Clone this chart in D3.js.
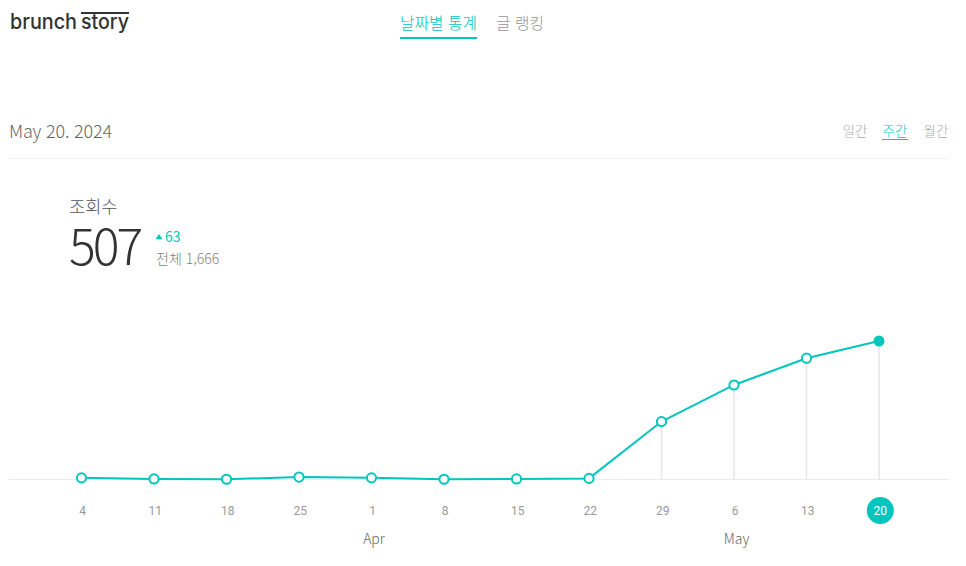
<!DOCTYPE html>
<html lang="ko">
<head>
  <meta charset="UTF-8">
  <title>brunch story</title>
  <style>
    html, body { margin: 0; padding: 0; background: #fff; overflow: hidden; }
    #svg { display: block; opacity: 0.999; }
    text { font-family: "Noto Sans CJK KR", "Noto Sans", sans-serif; font-weight: 300; }
    .roboto { font-family: Roboto, sans-serif; font-weight: 400; }
    .logo { font-family: Inter, Roboto, sans-serif; font-weight: 500; }
  </style>
</head>
<body>
  <svg id="svg" width="966" height="566"></svg>
  <script src="https://d3js.org/d3.v7.min.js"></script>
  <script>
    // data
    const weeks = ['4', '11', '18', '25', '1', '8', '15', '22', '29', '6', '13', '20']
    const views = [6, 2, 1, 9, 6, 1, 2, 4, 212, 346, 444, 507]
    const months = [['Apr', '1'], ['May', '6']]
    const tabs = ['일간', '주간', '월간']

    const teal = '#00c6be'
    const svg = d3.select('#svg')

    // ----- SCALES -----
    const xScale = d3.scalePoint().domain(weeks).range([81.5, 879])
    const yScale = d3.scaleLinear().domain([0, 507]).range([479.5, 341])

    function label(x, y, str, size, color, anchor, cls) {
      return svg.append('text')
        .attr('x', x).attr('y', y)
        .attr('text-anchor', anchor || 'start')
        .attr('class', cls || null)
        .style('font-size', size + 'px')
        .style('fill', color)
        .text(str)
    }

    // ----- HEADER -----
    label(10, 29, 'brunch', 21, '#333', 'start', 'logo')
      .attr('textLength', 67).attr('lengthAdjust', 'spacingAndGlyphs')
    label(81, 29, 'story', 21, '#333', 'start', 'logo')
      .attr('textLength', 48).attr('lengthAdjust', 'spacingAndGlyphs')
    svg.append('rect').attr('x', 81).attr('y', 12).attr('width', 48).attr('height', 2).attr('fill', '#333')

    label(400, 29, '날짜별 통계', 15.8, teal)
    svg.append('rect').attr('x', 400).attr('y', 37).attr('width', 77).attr('height', 2).attr('fill', teal)
    label(496, 29, '글 랭킹', 15.8, '#959595')

    label(9, 138, 'May 20. 2024', 18, '#666').style('letter-spacing', '-0.2px')
    const tabX = [855, 895, 936]
    tabs.forEach((t, i) => label(tabX[i], 136, t, 13.5, i === 1 ? teal : '#aaa', 'middle'))
    svg.append('rect').attr('x', 882).attr('y', 139).attr('width', 26).attr('height', 1).attr('fill', teal)
    svg.append('rect').attr('x', 9).attr('y', 158).attr('width', 940).attr('height', 1).attr('fill', '#f2f2f2')

    // ----- SUMMARY -----
    label(69, 213, '조회수', 17.6, '#555')
    label(69, 265, '507', 50, '#333').style('letter-spacing', '-3px')
    svg.append('path').attr('d', 'M155.5 239.2 L159 234 L162.5 239.2 Z').attr('fill', teal)
    label(165, 242, '63', 14, teal).style('font-weight', 400)
    label(156, 264, '전체 1,666', 14, '#808080')

    // ----- BASELINE + DROP LINES -----
    svg.append('line')
      .attr('x1', 9).attr('x2', 949)
      .attr('y1', yScale(0)).attr('y2', yScale(0))
      .attr('stroke', '#ebebeb').attr('stroke-width', 1)

    const series = weeks.map((w, i) => ({ week: w, value: views[i] }))

    svg.append('g').selectAll('line')
      .data(series.slice(8))
      .enter().append('line')
      .attr('x1', d => xScale(d.week)).attr('x2', d => xScale(d.week))
      .attr('y1', d => yScale(d.value)).attr('y2', yScale(0))
      .attr('stroke', '#e6e6e6').attr('stroke-width', 1.5)

    // ----- LINE -----
    const line = d3.line().x(d => xScale(d.week)).y(d => yScale(d.value))
    svg.append('path')
      .datum(series)
      .attr('d', line)
      .attr('fill', 'none')
      .attr('stroke', teal)
      .attr('stroke-width', 2)

    svg.append('g').selectAll('circle')
      .data(series)
      .enter().append('circle')
      .attr('cx', d => xScale(d.week))
      .attr('cy', d => yScale(d.value))
      .attr('r', (d, i) => i === series.length - 1 ? 5.5 : 4.6)
      .attr('fill', (d, i) => i === series.length - 1 ? teal : '#fff')
      .attr('stroke', teal)
      .attr('stroke-width', (d, i) => i === series.length - 1 ? 0 : 2)

    // ----- AXIS -----
    svg.append('circle')
      .attr('cx', xScale('20') + 1.3)
      .attr('cy', 510.5)
      .attr('r', 13.5)
      .attr('fill', teal)

    const axis = d3.axisBottom(xScale).tickSize(0).tickPadding(0)
    const axisG = svg.append('g').attr('transform', 'translate(0.7, 506.5)').call(axis)
    axisG.select('.domain').remove()
    axisG.selectAll('text')
      .attr('class', 'roboto')
      .style('font-size', '12px')
      .style('fill', d => d === '20' ? '#fff' : '#999')

    months.forEach(m => label(xScale(m[1]) + 2.5, 544, m[0], 14, '#666', 'middle'))
  </script>
</body>
</html>
